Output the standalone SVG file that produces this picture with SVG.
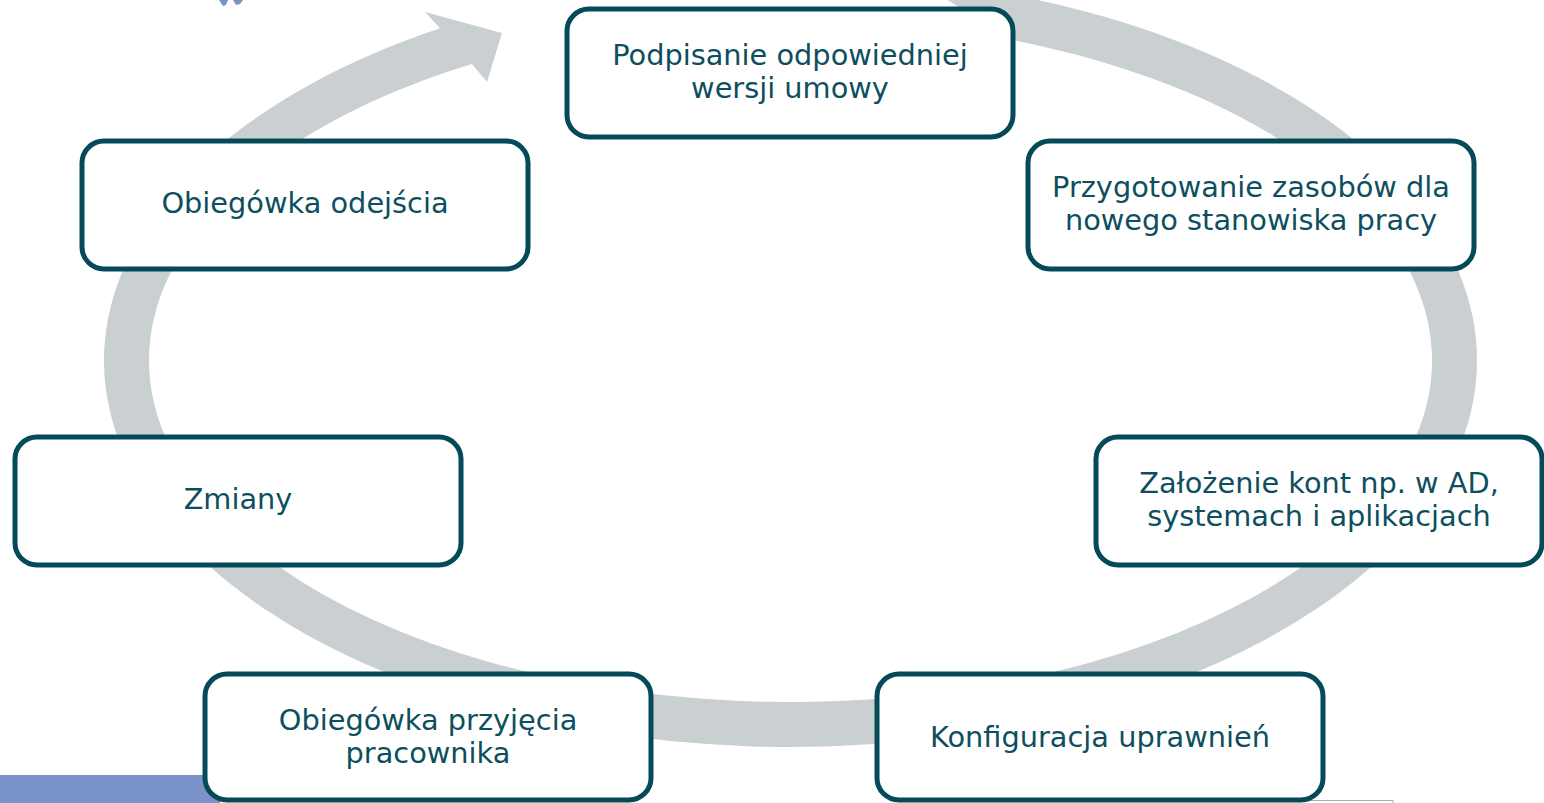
<svg xmlns="http://www.w3.org/2000/svg" width="1544" height="803" viewBox="0 0 1544 803">
  <style>
    .box { fill: #ffffff; stroke: #054A58; stroke-width: 5; }
    .lbl { font-family: "DejaVu Sans", "Liberation Sans", sans-serif; font-size: 28.8px; fill: #0D4F5E; text-anchor: middle; }
    .ring { fill: #CACFD2; }
    .accent { fill: #7A93C8; }
  </style>
  <rect id="bottom-bar" class="accent" x="0" y="775" width="220" height="28"/>
  <g id="corner-marks" class="accent">
    <path d="M219,0 L228,0 L226,5 L223,6 Z"/>
    <path d="M233,0 L243,0 L240,4 L236,5 Z"/>
  </g>
  <path d="M1300,800.5 L1393,800.5 L1393,803" fill="none" stroke="#9FB0B6" stroke-width="1"/>
  <g id="connectors">
    <path class="ring" d="M916,-19.49 A686.5 386.5 0 1 1 440,28.17 L425,12 L502,33 L487,82 L472,64.06 A641.5 341.5 0 1 0 1012,40 Z"/>
  </g>
  <g id="node-podpisanie">
    <rect class="box" x="567" y="9" width="446" height="128" rx="22"/>
    <text class="lbl" x="790" y="65">Podpisanie odpowiedniej</text>
    <text class="lbl" x="790" y="98">wersji umowy</text>
  </g>
  <g id="node-przygotowanie">
    <rect class="box" x="1028" y="141" width="446" height="128" rx="22"/>
    <text class="lbl" x="1251" y="197">Przygotowanie zasobów dla</text>
    <text class="lbl" x="1251" y="230">nowego stanowiska pracy</text>
  </g>
  <g id="node-obiegowka-odejscia">
    <rect class="box" x="82" y="141" width="446" height="128" rx="22"/>
    <text class="lbl" x="305" y="213">Obiegówka odejścia</text>
  </g>
  <g id="node-zmiany">
    <rect class="box" x="15" y="437" width="446" height="128" rx="22"/>
    <text class="lbl" x="238" y="509">Zmiany</text>
  </g>
  <g id="node-zalozenie">
    <rect class="box" x="1096" y="437" width="446" height="128" rx="22"/>
    <text class="lbl" x="1319" y="493">Założenie kont np. w AD,</text>
    <text class="lbl" x="1319" y="526">systemach i aplikacjach</text>
  </g>
  <g id="node-obiegowka-przyjecia">
    <rect class="box" x="205" y="674" width="446" height="126" rx="22"/>
    <text class="lbl" x="428" y="730">Obiegówka przyjęcia</text>
    <text class="lbl" x="428" y="763">pracownika</text>
  </g>
  <g id="node-konfiguracja">
    <rect class="box" x="877" y="674" width="446" height="126" rx="22"/>
    <text class="lbl" x="1100" y="747">Konfiguracja uprawnień</text>
  </g>
</svg>
